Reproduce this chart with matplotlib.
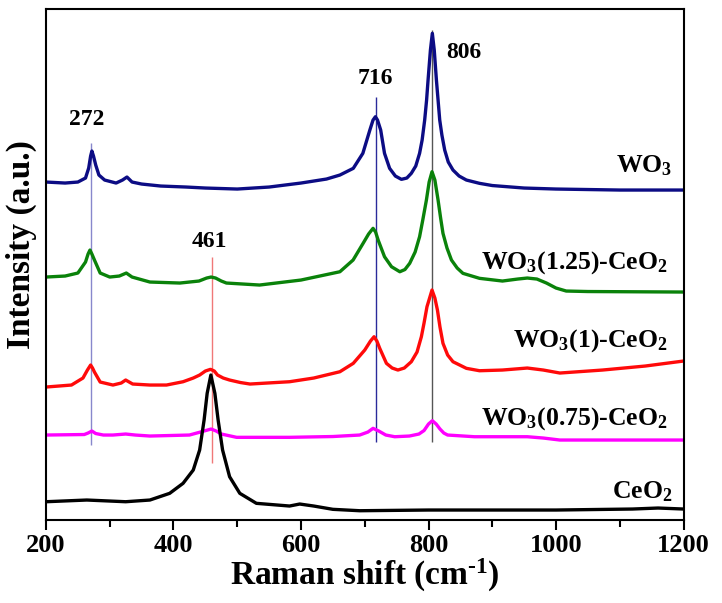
import matplotlib
matplotlib.use("Agg")
import matplotlib.pyplot as plt

plt.rcParams['font.family'] = ['Liberation Serif', 'DejaVu Serif']
plt.rcParams['font.weight'] = 'bold'
plt.rcParams['mathtext.fontset'] = 'custom'
plt.rcParams['mathtext.rm'] = 'Liberation Serif:bold'
plt.rcParams['mathtext.bf'] = 'Liberation Serif:bold'
plt.rcParams['mathtext.default'] = 'rm'

# Raman shift (cm-1) / intensity (a.u., stacked with offsets as in the figure)
wo3_x = [200, 230, 250, 262, 267, 270, 272, 274.5, 278, 283, 292, 310, 320, 327, 335, 350,
         380, 420, 450, 500, 550, 600, 640, 661, 682, 697, 708, 713, 716.7, 720, 725, 731,
         739, 748, 757.5, 766, 773, 780, 786, 790, 794, 797, 799.3, 803, 806, 809, 812.4,
         815, 817.6, 821, 825.4, 831, 838.4, 848, 859.4, 880, 900, 950, 1000, 1100, 1200]
wo3_y = [338, 337, 338, 342, 352, 364, 369, 364, 355, 345, 340, 337, 340, 343, 338, 336,
         334, 333, 332, 331, 333, 337, 341, 345, 351.7, 366.7, 390, 400, 403.3, 400, 390, 366.7,
         351.7, 344, 340.7, 342, 346.7, 354, 366.7, 380, 400, 420, 440, 470, 486.7, 470, 440,
         420, 400, 385, 370, 358, 350, 344, 340, 336.7, 334.5, 332, 331, 330, 330]

w125_x = [200, 230, 250, 262, 266, 269, 272, 276, 285, 300, 315, 326, 335, 363, 410, 440,
          452, 459, 466, 475, 483, 535, 600, 661, 681.7, 697.4, 706, 713, 717, 721, 731, 742,
          755, 763, 770.5, 779, 786, 791, 796.7, 801, 805.5, 810, 815, 819, 822.7, 829, 836,
          845, 854, 880, 916, 940, 955, 970, 985, 1000, 1016, 1050, 1200]
w125_y = [243, 244, 247, 258, 266, 270, 266, 260, 247, 243, 244, 247, 243, 238, 237, 239,
          242, 243, 242, 239, 237, 235, 240, 248.3, 260, 276.7, 286, 291.7, 288, 280, 263.3, 253.3,
          248.3, 250.5, 256.7, 268, 283.3, 300, 320, 338, 348.3, 340, 320, 302, 286.7, 272, 260,
          252, 246.7, 241.7, 239, 241, 242, 241, 237, 232, 229, 228.5, 228]

w1_x = [200, 240, 258, 265, 270, 273, 276, 285, 305, 318, 325, 336, 363, 389, 415, 431,
        441, 450, 458, 464, 469, 478, 488, 505, 520, 582, 620, 661, 682, 700, 709, 714.6,
        719, 723.5, 734, 743, 752, 762, 773, 782, 788.8, 793, 797.6, 805.5, 810, 814, 818,
        822.7, 830, 838.4, 859.4, 880, 916, 955, 980, 1006, 1073, 1140, 1200]
w1_y = [133, 135, 142, 150, 155, 152, 148, 138, 135, 137, 140, 136, 135, 135, 138.3, 142,
        145, 149, 150.7, 149, 145, 142, 140, 137.5, 136, 138.3, 142, 148.3, 156.7, 170, 179, 183.3,
        179, 171.7, 156.7, 152, 150, 152, 158.3, 168, 183.3, 197, 213.3, 230, 222, 210, 193,
        176.7, 165, 158.3, 151.7, 149.3, 150, 152, 150, 147, 150, 154, 159]

w075_x = [200, 260, 266, 272, 278, 290, 305, 325, 340, 363, 425, 444, 459, 467, 475, 499,
          582, 650, 692, 705, 713, 722, 733, 747, 770, 785, 793, 800, 806, 812, 818, 824,
          830, 872, 955, 980, 1006, 1200]
w075_y = [85, 85.5, 87, 89, 86.5, 85, 85, 86, 85, 84, 85, 88.3, 91, 89, 86, 82.7,
          82.7, 83.5, 85, 88, 91.7, 89, 85, 83.3, 84, 86, 89.5, 96, 99.3, 96, 91, 87,
          85, 83.3, 83.3, 82, 80, 80]

ceo2_x = [200, 264, 325, 363, 394, 415, 431, 441, 448, 452.8, 458.6, 464.9, 470, 477, 488, 504,
          530, 582, 598, 620, 650, 692, 800, 1000, 1120, 1160, 1200]
ceo2_y = [18.3, 20, 18.3, 20, 26.7, 36.7, 50, 70, 100, 126.7, 145, 126.7, 100, 70, 43.3, 26.7,
          16.7, 14, 16, 14, 10.7, 9.3, 10, 10, 11, 12, 11]

series = [
    (wo3_x, wo3_y, '#0c0c84', r'WO$_3$', 348),
    (w125_x, w125_y, '#0a820a', r'WO$_3$(1.25)-CeO$_2$', 251.7),
    (w1_x, w1_y, '#ff0a0a', r'WO$_3$(1)-CeO$_2$', 173.3),
    (w075_x, w075_y, '#ff00ff', r'WO$_3$(0.75)-CeO$_2$', 95),
    (ceo2_x, ceo2_y, '#000000', r'CeO$_2$', 22),
]
label_right = [1183, 1175, 1175, 1175, 1183]

# peak marker lines: position, label, color, bottom, top, label x, label y
peaks = [
    (270, '272', '#8888cc', 75, 377, 264, 401),
    (461, '461', '#f07878', 57, 263, 457, 279),
    (717, '716', '#2a2a9a', 78, 423, 716, 442),
    (806, '806', '#555555', 78, 490, 855, 468),
]

fig = plt.figure(figsize=(7.22, 6.03), dpi=100)
ax = fig.add_axes([0.0637, 0.1376, 0.8830, 0.8474])

for pos, txt, col, y0, y1, tx, ty in peaks:
    ax.vlines(pos, y0, y1, color=col, lw=1.0, zorder=1)
    ax.text(tx, ty, txt, ha='center', va='center', fontsize=17, fontweight='bold')

for (xs, ys, col, name, ly), rx in zip(series, label_right):
    ax.plot(xs, ys, color=col, lw=2.4, zorder=2, solid_joinstyle='round')
    ax.text(rx, ly, name, ha='right', va='baseline', fontsize=18.5, fontweight='bold')

ax.set_xlim(200, 1200)
ax.set_ylim(0, 511)
ax.set_xticks([200, 400, 600, 800, 1000, 1200])
ax.set_xticks([300, 500, 700, 900, 1100], minor=True)
ax.set_yticks([])
ax.tick_params(axis='x', which='major', direction='out', length=7, width=1.5,
               labelsize=19, pad=3)
ax.tick_params(axis='x', which='minor', direction='out', length=5, width=1.5)
for sp in ax.spines.values():
    sp.set_linewidth(1.5)

ax.set_xlabel(r'Raman shift (cm$^{\text{-1}}$)', fontsize=24, fontweight='bold')
ax.set_ylabel('Intensity (a.u.)', fontsize=24, fontweight='bold')
ax.xaxis.set_label_coords(0.5, -0.072)
ax.yaxis.set_label_coords(-0.014, 0.54)

fig.savefig('out.png', dpi=100)
